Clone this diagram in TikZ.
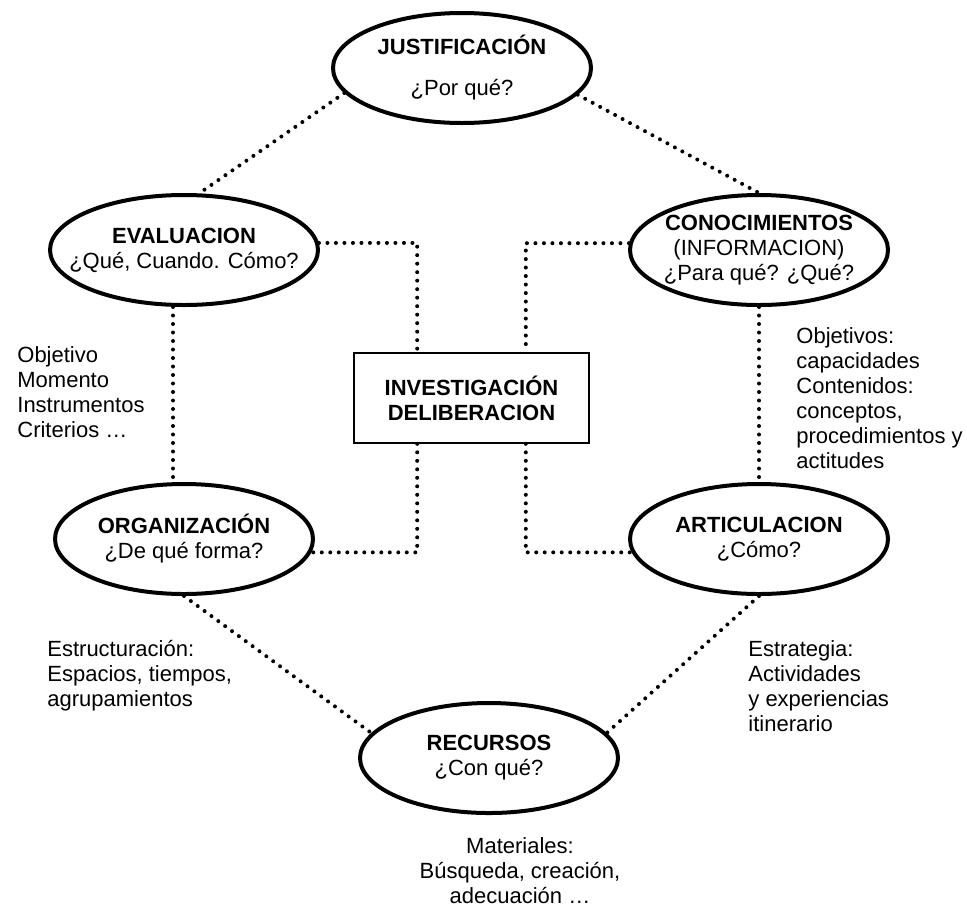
\documentclass[tikz,border=0pt]{standalone}
\usepackage{fontspec}
\setmainfont{Liberation Sans}
\usetikzlibrary{shapes.geometric}
\tikzset{
	elli/.style={ellipse, draw, line width=2pt, minimum width=129pt, minimum height=55pt, inner xsep=-10pt, inner ysep=-6pt, align=center, font=\fontsize{11}{12.5}\selectfont},
	caja/.style={rectangle, draw, line width=0.8pt, minimum width=117.5pt, minimum height=45pt, align=center, font=\fontsize{11}{12.5}\selectfont\bfseries},
	puntos/.style={line width=2pt, line cap=round, dash pattern=on 0pt off 4.25pt},
	texto/.style={inner sep=0pt, font=\fontsize{11}{12.5}\selectfont}
}
\begin{document}
\begin{tikzpicture}[x=0.5pt, y=-0.5pt, node distance=144.5pt]
	\useasboundingbox (0,0) rectangle (967,905);
	\node[elli](J) at (462,68){\textbf{JUSTIFICACIÓN}\\[8pt]¿Por qué?};
	\node[elli](E) at (184,250){\textbf{EVALUACION}\\¿Qué, Cuando. Cómo?};
	\node[elli](C) at (759,250){\textbf{CONOCIMIENTOS}\\(INFORMACION)\\¿Para qué? ¿Qué?};
	\node[elli](O)[below of=E]{\textbf{ORGANIZACIÓN}\\¿De qué forma?};
	\node[elli](A)[below of=C]{\textbf{ARTICULACION}\\¿Cómo?};
	\node[elli](R) at (489,758){\textbf{RECURSOS}\\¿Con qué?};
	\node[caja](I) at (471.5,398){INVESTIGACIÓN\\DELIBERACION};
	\node[texto, anchor=north west, align=left](oE) at (17,346){Objetivo\\Momento\\Instrumentos\\Criterios …};
	\node[texto, anchor=north west, align=left](oC) at (796,327){Objetivos:\\capacidades\\Contenidos:\\conceptos,\\procedimientos y\\actitudes};
	\node[texto, anchor=north west, align=left](eO) at (47,640){Estructuración:\\Espacios, tiempos,\\agrupamientos};
	\node[texto, anchor=north west, align=left](eA) at (748,640){Estrategia:\\Actividades\\y experiencias\\itinerario};
	\node[texto, anchor=north, align=center](mR) at (520,837){Materiales:\\Búsqueda, creación,\\adecuación …};
	\draw[puntos](J.192) -- (E.75);
	\draw[puntos](J.347) -- (C.north);
	\draw[puntos](E.3) -| ([xshift=32pt]I.north west);
	\draw[puntos]([xshift=32pt]I.south west) |- (O.354);
	\draw[puntos](C.177) -| ([xshift=-32pt]I.north east);
	\draw[puntos]([xshift=-32pt]I.south east) |- (A.186);
	\draw[puntos]([xshift=-5.5pt]E.south) -- ([xshift=-5.5pt]O.north);
	\draw[puntos](C.south) -- (A.north);
	\draw[puntos](O.south) -- (R.168);
	\draw[puntos](A.south) -- (R.12);
\end{tikzpicture}
\end{document}
